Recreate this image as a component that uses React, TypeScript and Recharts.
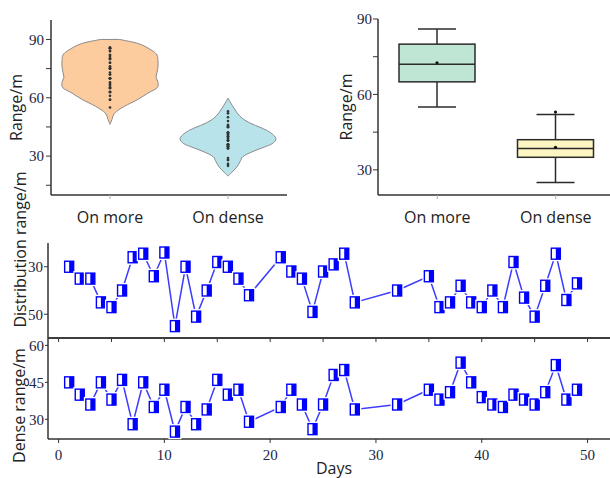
// Range comparison figure: violin + box plots on top, two daily range
// traces underneath sharing a "Days" axis.

import React from "react";
import {
  Bar,
  ComposedChart,
  Line,
  LineChart,
  ReferenceLine,
  XAxis,
  YAxis,
} from "recharts";

// ---- data ------------------------------------------------------------------

const categories = ["On more", "On dense"];

const days = [
  1, 2, 3, 4, 5, 6, 7, 8, 9, 10, 11, 12, 13, 14, 15, 16, 17, 18, 21, 22, 23,
  24, 25, 26, 27, 28, 32, 35, 36, 37, 38, 39, 40, 41, 42, 43, 44, 45, 46, 47,
  48, 49,
];

const distributionRange = [
  30, 35, 35, 45, 47, 40, 26, 24.5, 34, 24, 55, 30, 51, 40, 28, 30, 35, 42, 26,
  32, 35, 49, 32, 29, 24.5, 45, 40, 34, 47, 45, 38, 45, 47, 40, 47, 28, 43, 51,
  38, 24.5, 44, 37,
];

const denseRange = [
  45, 40, 36, 45, 38, 46, 28, 45, 35, 42, 25, 35, 28, 34, 46, 40, 42, 29, 35,
  42, 36, 26, 36, 48, 50, 34, 36, 42, 38, 41, 53, 45, 39, 36, 35, 40, 38, 36,
  41, 52, 38, 42,
];

const onMoreRange = [
  80, 75, 75, 65, 63, 70, 84, 85.5, 76, 86, 55, 80, 59, 70, 82, 80, 75, 68, 84,
  78, 75, 61, 78, 81, 85.5, 65, 70, 76, 63, 65, 72, 65, 63, 70, 63, 82, 67, 59,
  72, 85.5, 66, 73,
];

// violin outlines: value levels and relative half-width (1 = widest)
const moreViolinLevels = [
  46.3, 48.8, 52.2, 55.6, 59, 62.4, 65.1, 68, 70.5, 73, 76, 79, 82, 84.4, 87.8,
  90,
];
const moreViolinWidths = [
  0, 0.04, 0.1, 0.3, 0.57, 0.79, 0.98, 1, 0.96, 0.98, 1, 1, 0.98, 0.87, 0.6,
  0.2,
];
const denseViolinLevels = [
  19.7, 21.7, 24.3, 27.1, 29.7, 32.2, 34.6, 36.4, 39, 42, 44.6, 47.1, 50.5,
  55.6, 59.8,
];
const denseViolinWidths = [
  0, 0.08, 0.18, 0.25, 0.31, 0.5, 0.75, 0.92, 1, 0.89, 0.69, 0.45, 0.25, 0.1, 0,
];

// box plot statistics
const boxMin = [55, 25];
const boxQ1 = [65, 35];
const boxMedian = [72, 38.5];
const boxQ3 = [80, 42];
const boxMax = [86, 52];
const boxMean = [72.6, 39];
const boxExtreme = [null, 53];

// ---- styling ----------------------------------------------------------------

const AXIS = "#333";
const NUM_FONT = "Liberation Serif";
const TEXT_FONT = "Open Sans";
const violinFills = ["#fccb9e", "#b8e3ea"];
const boxFills = ["#bfe5d4", "#fdf6c3"];
const BLUE = "#0000ff";

const numTick = { fontSize: 15, fill: "#1c2541", fontFamily: NUM_FONT };
const catTick = { fontSize: 16, fill: "#222", fontFamily: TEXT_FONT };
const axisLine = { stroke: AXIS, strokeWidth: 1.5 };

const violinLevels = [moreViolinLevels, denseViolinLevels];
const violinWidths = [moreViolinWidths, denseViolinWidths];
const violinDots = [onMoreRange, denseRange];

const violinRows = categories.map((cat, i) => ({
  cat,
  extent: [violinLevels[i][0], violinLevels[i][violinLevels[i].length - 1]],
  levels: violinLevels[i],
  widths: violinWidths[i],
  dots: violinDots[i],
}));

const boxRows = categories.map((cat, i) => ({
  cat,
  whisker: [boxMin[i], boxMax[i]],
  q1: boxQ1[i],
  median: boxMedian[i],
  q3: boxQ3[i],
  mean: boxMean[i],
  extreme: boxExtreme[i],
}));

const distributionRows = days.map((day, i) => ({
  day,
  v: distributionRange[i],
}));
const denseRows = days.map((day, i) => ({ day, v: denseRange[i] }));

const majorOnly = (v: number) => (v % 30 === 0 ? String(v) : "");

// ---- helpers ----------------------------------------------------------------

type Pt = [number, number];

function smooth(pts: Pt[], move = true): string {
  let d = move ? `M${pts[0][0]},${pts[0][1]}` : "";
  for (let i = 0; i < pts.length - 1; i++) {
    const p0 = pts[i - 1] || pts[i];
    const p1 = pts[i];
    const p2 = pts[i + 1];
    const p3 = pts[i + 2] || p2;
    const c1 = [p1[0] + (p2[0] - p0[0]) / 6, p1[1] + (p2[1] - p0[1]) / 6];
    const c2 = [p2[0] - (p3[0] - p1[0]) / 6, p2[1] - (p3[1] - p1[1]) / 6];
    d += ` C${c1[0]},${c1[1]} ${c2[0]},${c2[1]} ${p2[0]},${p2[1]}`;
  }
  return d;
}

// axis title drawn from the axis viewBox; own prop names so Label's
// defaults (angle, offset...) don't override them
function AxisTitle(props: any) {
  const { viewBox, text, ox = 0, oy = 0, rot = 0 } = props;
  if (!viewBox) return null;
  const cx = viewBox.x + viewBox.width / 2 + ox;
  const cy = viewBox.y + viewBox.height / 2 + oy;
  return (
    <text
      x={cx}
      y={cy}
      textAnchor="middle"
      dominantBaseline="central"
      transform={rot ? `rotate(${rot} ${cx} ${cy})` : undefined}
      fontSize={16}
      fontFamily={TEXT_FONT}
      fill="#222"
    >
      {text}
    </text>
  );
}

function ViolinShape(props: any) {
  const { x, y, width, height, payload, index } = props;
  const [lo, hi] = payload.extent;
  const py = (v: number) => y + ((hi - v) / (hi - lo)) * height;
  const cx = x + width / 2;
  const hw = width / 2;
  const right: Pt[] = payload.levels.map(
    (lv: number, k: number) => [cx + payload.widths[k] * hw, py(lv)] as Pt,
  );
  const left: Pt[] = payload.levels
    .map((lv: number, k: number) => [cx - payload.widths[k] * hw, py(lv)] as Pt)
    .reverse();
  const d =
    smooth(right) + ` L${left[0][0]},${left[0][1]}` + smooth(left, false) + " Z";
  return (
    <g>
      <path d={d} fill={violinFills[index]} stroke="#8a8a8a" strokeWidth={1} />
      {payload.dots.map((v: number, k: number) => (
        <circle key={k} cx={cx} cy={py(v)} r={1.3} fill="#333" />
      ))}
    </g>
  );
}

function BoxShape(props: any) {
  const { x, y, width, height, payload, index } = props;
  const [lo, hi] = payload.whisker;
  const py = (v: number) => y + ((hi - v) / (hi - lo)) * height;
  const cx = x + width / 2;
  const cap = 19;
  const stroke = { stroke: "#2b2b2b", strokeWidth: 1.5 };
  return (
    <g>
      <line x1={cx} x2={cx} y1={py(hi)} y2={py(payload.q3)} {...stroke} />
      <line x1={cx} x2={cx} y1={py(payload.q1)} y2={py(lo)} {...stroke} />
      <line x1={cx - cap} x2={cx + cap} y1={py(hi)} y2={py(hi)} {...stroke} />
      <line x1={cx - cap} x2={cx + cap} y1={py(lo)} y2={py(lo)} {...stroke} />
      <rect
        x={x}
        y={py(payload.q3)}
        width={width}
        height={py(payload.q1) - py(payload.q3)}
        fill={boxFills[index]}
        {...stroke}
      />
      <line
        x1={x}
        x2={x + width}
        y1={py(payload.median)}
        y2={py(payload.median)}
        {...stroke}
      />
      <circle cx={cx} cy={py(payload.mean)} r={1.6} fill="#111" />
      {payload.extreme != null && (
        <circle cx={cx} cy={py(payload.extreme)} r={1.6} fill="#111" />
      )}
    </g>
  );
}

function Marker(props: any) {
  const { cx, cy, index } = props;
  if (cx == null || cy == null) return <g key={`m${index}`} />;
  return (
    <g key={`m${index}`}>
      <rect x={cx - 6.5} y={cy - 7.5} width={13} height={15} fill="#fff" />
      <rect
        x={cx - 4.5}
        y={cy - 5.5}
        width={9}
        height={11}
        fill="#fff"
        stroke={BLUE}
        strokeWidth={1.4}
      />
      <rect x={cx} y={cy - 5.5} width={4.5} height={11} fill={BLUE} />
    </g>
  );
}

// ---- panels -----------------------------------------------------------------

function ViolinPanel() {
  return (
    <ComposedChart
      width={300}
      height={240}
      data={violinRows}
      margin={{ top: 20, right: 13, bottom: 15, left: 0 }}
    >
      <XAxis
        dataKey="cat"
        height={30}
        interval={0}
        tickSize={4}
        tickMargin={13}
        axisLine={axisLine}
        tickLine={{ stroke: "#aaa" }}
        tick={catTick}
      />
      <YAxis
        type="number"
        domain={[10, 100]}
        ticks={[15, 30, 45, 60, 75, 90]}
        tickFormatter={majorOnly}
        width={51}
        tickSize={5}
        tickMargin={2}
        axisLine={axisLine}
        tickLine={{ stroke: AXIS }}
        tick={numTick}
        label={<AxisTitle text="Range/m" ox={-9.5} rot={-90} />}
      />
      <Bar
        dataKey="extent"
        barSize={96}
        shape={ViolinShape}
        isAnimationActive={false}
      />
    </ComposedChart>
  );
}

function BoxPanel() {
  return (
    <ComposedChart
      width={285}
      height={240}
      data={boxRows}
      margin={{ top: 19, right: 0, bottom: 15, left: 0 }}
    >
      <XAxis
        dataKey="cat"
        height={30}
        interval={0}
        tickSize={4}
        tickMargin={13}
        axisLine={axisLine}
        tickLine={{ stroke: "#aaa" }}
        tick={catTick}
      />
      <YAxis
        type="number"
        domain={[20, 90]}
        ticks={[30, 45, 60, 75, 90]}
        tickFormatter={majorOnly}
        width={48}
        tickSize={5}
        tickMargin={1}
        axisLine={axisLine}
        tickLine={{ stroke: AXIS }}
        tick={numTick}
        label={<AxisTitle text="Range/m" ox={-8.5} rot={-90} />}
      />
      <Bar
        dataKey="whisker"
        barSize={76}
        shape={BoxShape}
        isAnimationActive={false}
      />
    </ComposedChart>
  );
}

function DistributionPanel() {
  return (
    <LineChart
      width={614}
      height={184}
      data={distributionRows}
      margin={{ top: 83, right: 0, bottom: 0, left: 0 }}
    >
      <XAxis
        dataKey="day"
        type="number"
        domain={[-1, 52.5]}
        ticks={[0, 5, 10, 15, 20, 25, 30, 35, 40, 45, 50]}
        tickFormatter={() => ""}
        height={6}
        tickSize={4}
        axisLine={axisLine}
        tickLine={{ stroke: AXIS }}
      />
      <YAxis
        type="number"
        reversed
        domain={[20, 60]}
        ticks={[30, 50]}
        width={48}
        tickSize={4}
        tickMargin={1}
        axisLine={axisLine}
        tickLine={{ stroke: AXIS }}
        tick={numTick}
        label={
          <AxisTitle text="Distribution range/m" ox={-4} oy={-41} rot={-90} />
        }
      />
      <Line
        dataKey="v"
        stroke="#3c3cff"
        strokeWidth={1.5}
        dot={Marker}
        isAnimationActive={false}
      />
    </LineChart>
  );
}

function DensePanel() {
  return (
    <LineChart
      width={614}
      height={148}
      data={denseRows}
      margin={{ top: 8, right: 0, bottom: 0, left: 0 }}
    >
      <XAxis
        dataKey="day"
        type="number"
        domain={[-1, 52.5]}
        ticks={[0, 10, 20, 30, 40, 50]}
        height={39}
        tickSize={4}
        tickMargin={6}
        axisLine={axisLine}
        tickLine={{ stroke: AXIS }}
        tick={numTick}
        label={<AxisTitle text="Days" ox={3} oy={9.5} />}
      />
      <YAxis
        type="number"
        domain={[22, 63]}
        ticks={[30, 45, 60]}
        width={48}
        tickSize={3}
        tickMargin={1}
        axisLine={axisLine}
        tickLine={{ stroke: AXIS }}
        tick={numTick}
        label={<AxisTitle text="Dense range/m" ox={-5.5} oy={17} rot={-90} />}
      />
      <ReferenceLine y={63} stroke={AXIS} strokeWidth={1.5} />
      <Line
        dataKey="v"
        stroke="#3c3cff"
        strokeWidth={1.5}
        dot={Marker}
        isAnimationActive={false}
      />
    </LineChart>
  );
}

export default function App() {
  return (
    <div
      style={{
        position: "absolute",
        left: 0,
        top: 0,
        width: 610,
        height: 478,
        overflow: "hidden",
        background: "#fff",
      }}
    >
      <div style={{ position: "absolute", left: 0, top: 0 }}>
        <ViolinPanel />
      </div>
      <div style={{ position: "absolute", left: 330, top: 0 }}>
        <BoxPanel />
      </div>
      <div style={{ position: "absolute", left: 0, top: 160 }}>
        <DistributionPanel />
      </div>
      <div style={{ position: "absolute", left: 0, top: 330 }}>
        <DensePanel />
      </div>
    </div>
  );
}
